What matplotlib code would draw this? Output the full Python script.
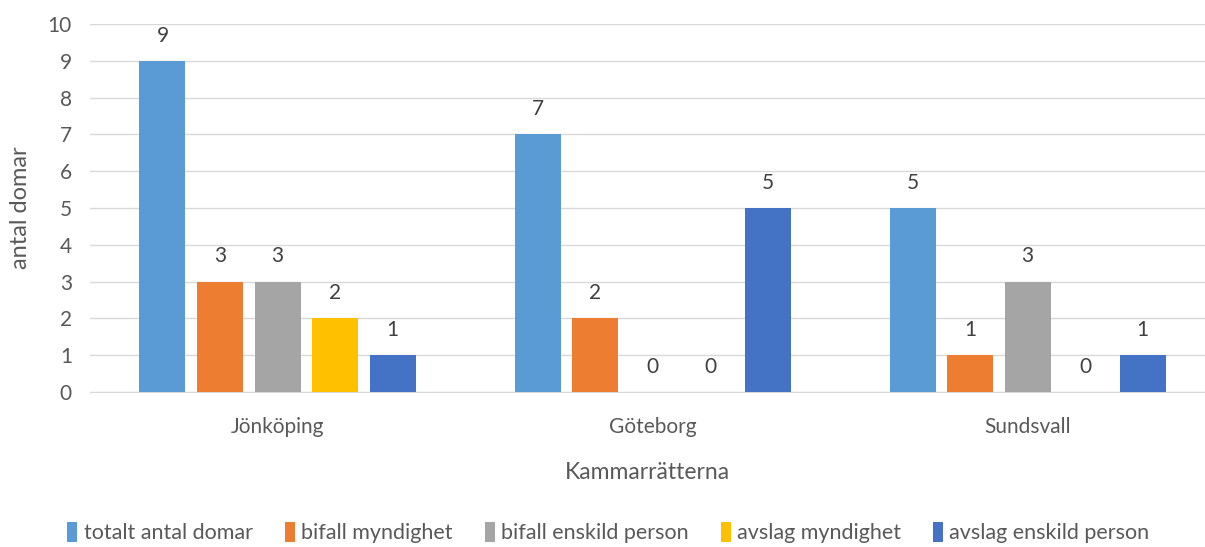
import numpy as np
import matplotlib.pyplot as plt

categories = ['Jönköping', 'Göteborg', 'Sundsvall']
series_names = ['totalt antal domar', 'bifall myndighet', 'bifall enskild person',
                'avslag myndighet', 'avslag enskild person']
totalt = [9, 7, 5]
bifall_myndighet = [3, 2, 1]
bifall_enskild = [3, 0, 3]
avslag_myndighet = [2, 0, 0]
avslag_enskild = [1, 5, 1]
colors = ['#5B9BD5', '#ED7D31', '#A5A5A5', '#FFC000', '#4472C4']

plt.rcParams['font.family'] = ['Lato', 'DejaVu Sans']

fig = plt.figure(figsize=(12.05, 5.47), dpi=100)
ax = fig.add_axes([90/1205, 1-392/547, 1-90/1205, (392-24)/547])

x = np.arange(len(categories))
pitch = 57.5/375
width = 46/375
all_series = [totalt, bifall_myndighet, bifall_enskild, avslag_myndighet, avslag_enskild]
for i, (vals, name, c) in enumerate(zip(all_series, series_names, colors)):
    pos = x + (i - 2) * pitch
    bars = ax.bar(pos, vals, width, color=c, label=name, zorder=3)
    for b, v in zip(bars, vals):
        ax.annotate(str(v), (b.get_x() + b.get_width()/2, v), xytext=(0, 11),
                    textcoords='offset points', ha='center', va='bottom',
                    fontsize=15, color='#404040')

ax.set_xlim(-0.5, (1205-277.5)/375)
ax.set_ylim(0, 10)
ax.set_yticks(range(0, 11))
ax.set_xticks(x)
ax.set_xticklabels(categories)
ax.tick_params(axis='both', length=0, labelsize=15, colors='#595959')
ax.tick_params(axis='y', pad=13)
ax.tick_params(axis='x', pad=18)
ax.grid(axis='y', color='#D9D9D9', linewidth=1, zorder=0)
for s in ['top', 'right', 'left']:
    ax.spines[s].set_visible(False)
ax.spines['bottom'].set_color('#D9D9D9')
ax.set_ylabel('antal domar', fontsize=17, color='#595959', labelpad=12)
ax.set_xlabel('Kammarrätterna', fontsize=16.5, color='#595959', labelpad=18)

fig.legend(loc='center', bbox_to_anchor=(0.505, 0.026), ncol=5, frameon=False,
           fontsize=15.5, handlelength=0.45, handleheight=1.0, handletextpad=0.3,
           columnspacing=1.5, labelcolor='#595959')

fig.savefig('out.png', dpi=100)
